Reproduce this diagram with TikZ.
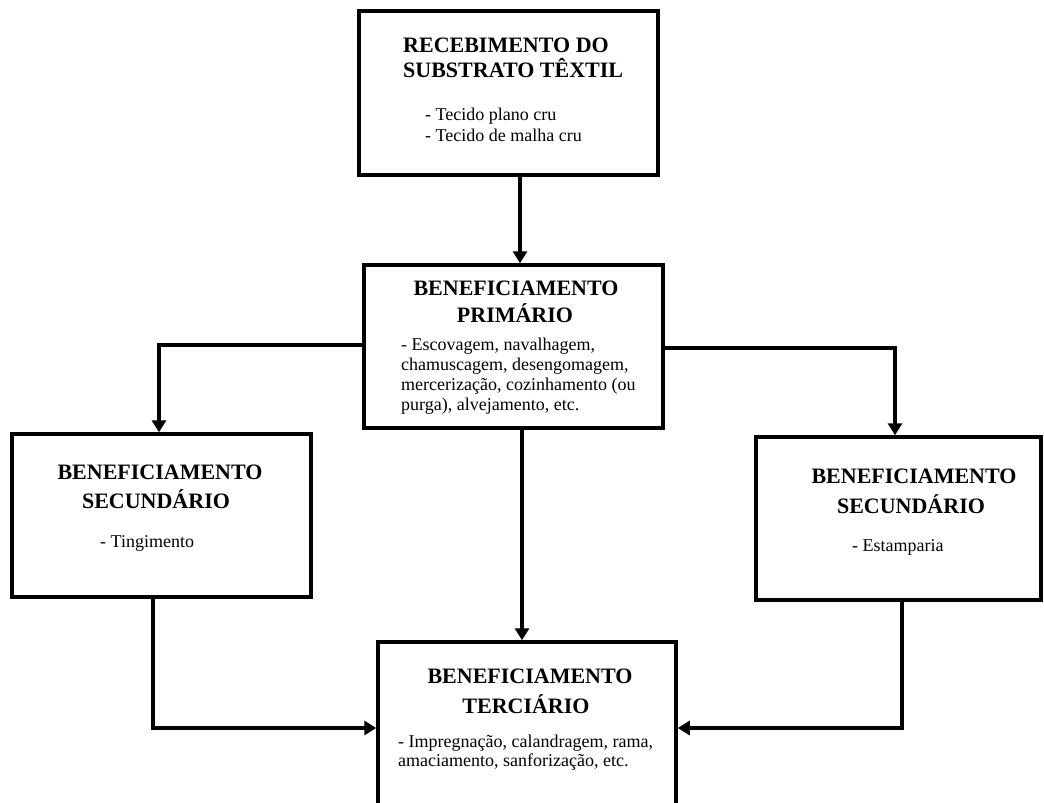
\documentclass[tikz,border=0pt]{standalone}
\usepackage{fontspec}
\setmainfont{Liberation Serif}
\usetikzlibrary{arrows.meta}
\begin{document}
\begin{tikzpicture}[x=1pt,y=-1pt,
  box/.style={draw=black, line width=3.5pt, inner sep=0pt, fill=white},
  ttl/.style={inner sep=0pt, font=\fontsize{22}{25}\selectfont\bfseries},
  txt/.style={inner sep=0pt, font=\fontsize{18}{20}\selectfont},
  arr/.style={draw=black, line width=3.5pt, -{Triangle[length=12pt,width=14pt]}}]
\clip (0,0) rectangle (1044,803);
\fill[white] (0,0) rectangle (1044,803);
% boxes
\node[box, minimum width=299pt, minimum height=164pt] (top) at (508.5,93) {};
\node[box, minimum width=299pt, minimum height=163pt] (prim) at (513.5,346.5) {};
\node[box, minimum width=299pt, minimum height=163pt] (left) at (161.5,515.5) {};
\node[box, minimum width=285pt, minimum height=163pt] (right) at (898.5,518.5) {};
\node[box, minimum width=298pt, minimum height=166pt] (bot) at (527,725) {};
% texts: top
\node[ttl, anchor=base west] (t1a) at (403,52) {RECEBIMENTO DO};
\node[ttl, anchor=base west] (t1b) at (403,77) {SUBSTRATO TÊXTIL};
\node[txt, anchor=base west] (b1a) at (425,120) {- Tecido plano cru};
\node[txt, anchor=base west] (b1b) at (425,141) {- Tecido de malha cru};
% primario
\node[ttl, anchor=base] (t2a) at (516,295) {BENEFICIAMENTO};
\node[ttl, anchor=base] (t2b) at (515,322) {PRIMÁRIO};
\node[txt, anchor=base west] (b2a) at (401,350) {- Escovagem, navalhagem,};
\node[txt, anchor=base west] (b2b) at (401,370) {chamuscagem, desengomagem,};
\node[txt, anchor=base west] (b2c) at (401,390) {mercerização, cozinhamento (ou};
\node[txt, anchor=base west] (b2d) at (401,410) {purga), alvejamento, etc.};
% left
\node[ttl, anchor=base] (t3a) at (160,479) {BENEFICIAMENTO};
\node[ttl, anchor=base] (t3b) at (156,508) {SECUNDÁRIO};
\node[txt, anchor=base west] (b3a) at (100,547) {- Tingimento};
% right
\node[ttl, anchor=base] (t4a) at (914,483) {BENEFICIAMENTO};
\node[ttl, anchor=base] (t4b) at (911,513) {SECUNDÁRIO};
\node[txt, anchor=base west] (b4a) at (852,551) {- Estamparia};
% bottom
\node[ttl, anchor=base] (t5a) at (530,683) {BENEFICIAMENTO};
\node[ttl, anchor=base] (t5b) at (526,713) {TERCIÁRIO};
\node[txt, anchor=base west] (b5a) at (398,747) {- Impregnação, calandragem, rama,};
\node[txt, anchor=base west] (b5b) at (398,766) {amaciamento, sanforização, etc.};
% connectors
\coordinate (ja) at (520,0);
\coordinate (jl) at (159,345);
\coordinate (jr) at (895,348);
\coordinate (jc) at (522,0);
\coordinate (jb1) at (153,728);
\coordinate (jb2) at (902,728);
\draw[arr] (top.south -| ja) -- (prim.north -| ja);
\draw[arr] (prim.west |- jl) -| (left.north -| jl);
\draw[arr] (prim.east |- jr) -| (right.north -| jr);
\draw[arr] (prim.south -| jc) -- (bot.north -| jc);
\draw[arr] (left.south -| jb1) |- (bot.west |- jb1);
\draw[arr] (right.south -| jb2) |- (bot.east |- jb2);
\end{tikzpicture}
\end{document}
